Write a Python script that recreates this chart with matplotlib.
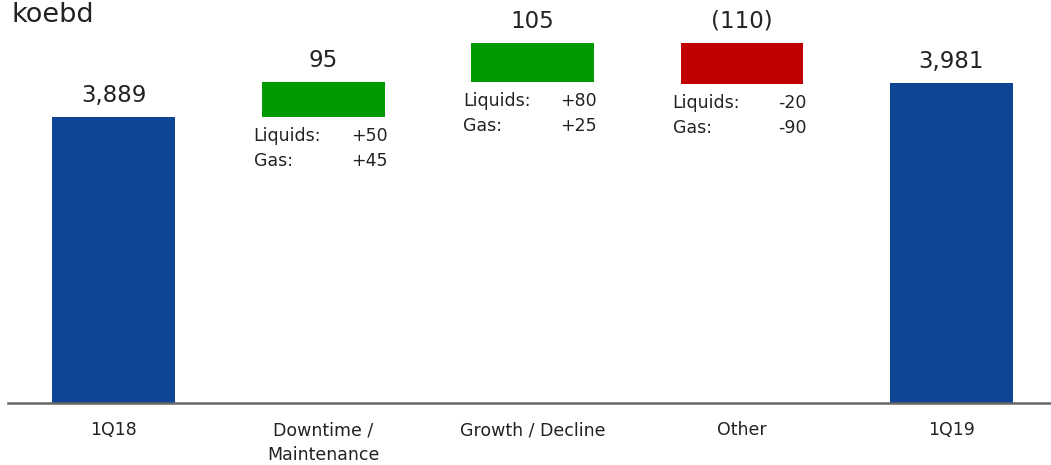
import matplotlib.pyplot as plt
import numpy as np

categories = ["1Q18", "Downtime /\nMaintenance", "Growth / Decline", "Other", "1Q19"]
start_value = 3889
changes = [95, 105, -110]
end_value = 3981
value_labels = ["3,889", "95", "105", "(110)", "3,981"]
liquids = ["+50", "+80", "-20"]
gas = ["+45", "+25", "-90"]

blue = "#0E4595"
green = "#009900"
red = "#C00000"

plt.rcParams['font.family'] = ['DejaVu Sans']

fig = plt.figure(figsize=(10.51, 4.65), dpi=100)
ax = fig.add_axes([8 / 1051, 62 / 465, 1 - 8 / 1051, 403 / 465])

base = 3116
x = np.arange(len(categories))
width = 0.587

# bar bottoms / heights for the waterfall
bottoms = [base]
heights = [start_value - base]
colors = [blue]
running = start_value
for c in changes:
    if c >= 0:
        bottoms.append(running)
        heights.append(c)
        colors.append(green)
    else:
        bottoms.append(running + c)
        heights.append(-c)
        colors.append(red)
    running += c
bottoms.append(base)
heights.append(end_value - base)
colors.append(blue)

ax.bar(x, heights, width, bottom=bottoms, color=colors, edgecolor='none')

tops = [b + h for b, h in zip(bottoms, heights)]
for i, lab in enumerate(value_labels):
    ax.annotate(lab, xy=(x[i], tops[i]), xytext=(0, 10), textcoords='offset pixels',
                ha='center', va='bottom', fontsize=16.5, color='#222222')

for j in range(len(changes)):
    i = j + 1
    bx_left = x[i] - width / 2
    bx_right = x[i] + width / 2
    yb = bottoms[i]
    ax.annotate("Liquids:", xy=(bx_left, yb), xytext=(-8, -19), textcoords='offset pixels',
                ha='left', va='center', fontsize=12.5, color='#222222')
    ax.annotate(liquids[j], xy=(bx_right, yb), xytext=(3, -19), textcoords='offset pixels',
                ha='right', va='center', fontsize=12.5, color='#222222')
    ax.annotate("Gas:", xy=(bx_left, yb), xytext=(-8, -44), textcoords='offset pixels',
                ha='left', va='center', fontsize=12.5, color='#222222')
    ax.annotate(gas[j], xy=(bx_right, yb), xytext=(3, -44), textcoords='offset pixels',
                ha='right', va='center', fontsize=12.5, color='#222222')

ax.set_xlim(-0.504, 4.475)
ax.set_ylim(base, base + 403 / 0.37)
ax.set_xticks(x)
ax.set_xticklabels(categories, fontsize=12.5, color='#222222', linespacing=1.5)
ax.tick_params(axis='x', length=0, pad=13)
ax.set_yticks([])
for s in ['top', 'right', 'left']:
    ax.spines[s].set_visible(False)
ax.spines['bottom'].set_color('#666666')
ax.spines['bottom'].set_linewidth(1.8)

fig.text(12 / 1051, 1 - 15 / 465, "koebd", ha='left', va='center', fontsize=19.5, color='#222222')

fig.savefig("out.png", dpi=100)
